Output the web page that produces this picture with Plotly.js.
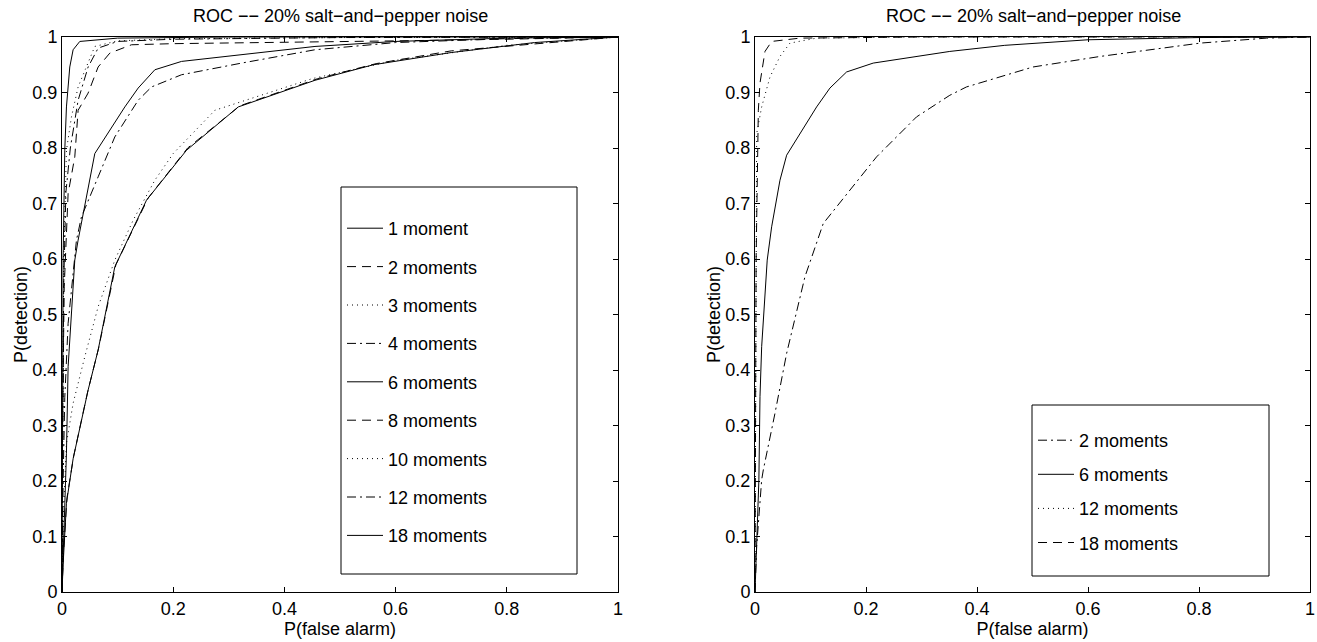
<!DOCTYPE html>
<html>
<head>
<meta charset="utf-8">
<script src="https://cdn.plot.ly/plotly-3.0.1.min.js"></script>
<style>html,body{margin:0;padding:0;background:#fff;}#chart{width:1317px;height:642px;}</style>
</head>
<body>
<div id="chart"></div>
<script>
// ---- Titles / labels ----
const plotTitle = "ROC \u2212\u2212 20% salt\u2212and\u2212pepper noise";
const xLabel = "P(false alarm)";
const yLabel = "P(detection)";

// ---- Left panel series ----
const leftNames = ["1 moment","2 moments","3 moments","4 moments","6 moments","8 moments","10 moments","12 moments","18 moments"];
const L1_fa = [0, 0.002, 0.008, 0.02, 0.047, 0.065, 0.095, 0.152, 0.224, 0.317, 0.455, 0.56, 0.7, 0.85, 1];
const L1_pd = [0, 0.05, 0.16, 0.24, 0.364, 0.436, 0.586, 0.706, 0.796, 0.874, 0.922, 0.95, 0.972, 0.99, 1];
const L2_fa = [0, 0.002, 0.009, 0.021, 0.046, 0.066, 0.097, 0.155, 0.226, 0.32, 0.46, 0.565, 0.7, 0.85, 1];
const L2_pd = [0, 0.06, 0.17, 0.245, 0.36, 0.44, 0.59, 0.71, 0.80, 0.876, 0.925, 0.952, 0.975, 0.988, 1];
const L3_fa = [0, 0.003, 0.008, 0.02, 0.041, 0.065, 0.095, 0.128, 0.167, 0.2, 0.275, 0.45, 0.6, 0.8, 1];
const L3_pd = [0, 0.15, 0.268, 0.34, 0.424, 0.514, 0.598, 0.67, 0.742, 0.79, 0.868, 0.925, 0.958, 0.985, 1];
const L4_fa = [0, 0.002, 0.005, 0.011, 0.026, 0.035, 0.065, 0.095, 0.137, 0.161, 0.215, 0.323, 0.455, 0.6, 0.8, 1];
const L4_pd = [0, 0.2, 0.35, 0.484, 0.634, 0.676, 0.748, 0.82, 0.886, 0.91, 0.932, 0.953, 0.977, 0.99, 0.997, 1];
const L6_fa = [0, 0.003, 0.008, 0.011, 0.017, 0.023, 0.029, 0.059, 0.113, 0.137, 0.167, 0.215, 0.455, 0.6, 0.8, 1];
const L6_pd = [0, 0.1, 0.25, 0.406, 0.496, 0.598, 0.634, 0.79, 0.874, 0.908, 0.941, 0.956, 0.983, 0.992, 0.998, 1];
const L8_fa = [0, 0.001, 0.004, 0.011, 0.023, 0.029, 0.047, 0.065, 0.086, 0.125, 0.2, 0.4, 0.6, 0.8, 1];
const L8_pd = [0, 0.3, 0.55, 0.718, 0.784, 0.868, 0.899, 0.946, 0.971, 0.986, 0.988, 0.99, 0.993, 0.996, 1];
const L10_fa = [0, 0.001, 0.003, 0.008, 0.017, 0.029, 0.044, 0.059, 0.1, 0.2, 0.5, 1];
const L10_pd = [0, 0.3, 0.6, 0.796, 0.856, 0.91, 0.946, 0.983, 0.993, 0.997, 0.999, 1];
const L12_fa = [0, 0.001, 0.003, 0.007, 0.015, 0.029, 0.047, 0.065, 0.1, 0.2, 0.5, 1];
const L12_pd = [0, 0.3, 0.55, 0.72, 0.8, 0.886, 0.946, 0.98, 0.992, 0.996, 0.999, 1];
const L18_fa = [0, 0.0005, 0.002, 0.005, 0.008, 0.014, 0.02, 0.032, 0.06, 0.1, 0.3, 1];
const L18_pd = [0, 0.3, 0.6, 0.796, 0.874, 0.946, 0.977, 0.992, 0.995, 0.998, 1, 1];

// ---- Right panel series ----
const rightNames = ["2 moments","6 moments","12 moments","18 moments"];
const R2_fa = [0, 0.003, 0.012, 0.015, 0.036, 0.057, 0.09, 0.123, 0.147, 0.18, 0.219, 0.291, 0.351, 0.381, 0.501, 0.622, 0.802, 0.922, 1];
const R2_pd = [0, 0.082, 0.202, 0.22, 0.322, 0.43, 0.568, 0.664, 0.694, 0.736, 0.784, 0.856, 0.895, 0.91, 0.946, 0.965, 0.989, 0.998, 1];
const R6_fa = [0, 0.003, 0.007, 0.009, 0.012, 0.022, 0.03, 0.045, 0.057, 0.111, 0.135, 0.165, 0.213, 0.351, 0.45, 0.6, 0.8, 1];
const R6_pd = [0, 0.1, 0.202, 0.352, 0.442, 0.598, 0.658, 0.742, 0.787, 0.874, 0.908, 0.937, 0.953, 0.974, 0.985, 0.995, 0.999, 1];
const R12_fa = [0, 0.001, 0.002, 0.003, 0.012, 0.027, 0.045, 0.063, 0.111, 0.3, 1];
const R12_pd = [0, 0.2, 0.5, 0.826, 0.874, 0.928, 0.965, 0.989, 0.998, 1, 1];
const R18_fa = [0, 0.0005, 0.002, 0.006, 0.009, 0.018, 0.03, 0.081, 0.3, 1];
const R18_pd = [0, 0.2, 0.6, 0.868, 0.917, 0.974, 0.992, 0.998, 1, 1];

const xTicks = [0, 0.2, 0.4, 0.6, 0.8, 1];
const yTicks = [0, 0.1, 0.2, 0.3, 0.4, 0.5, 0.6, 0.7, 0.8, 0.9, 1];

// ---- styles ----
const DASH = "9px,6px";
const DOT = "1px,4px";
const DASHDOT = "9px,4px,2px,4px";
const SOLID = "solid";
const FONT = "Liberation Sans, Arial, Helvetica, sans-serif";

function tr(x, y, name, dash, xa, ya, leg, idx) {
  return {
    type: "scatter", mode: "lines", x: x, y: y, name: name,
    xaxis: xa, yaxis: ya, legend: leg, legendgroup: leg + "_" + idx,
    line: {color: "#000", width: 1, dash: dash},
    hoverinfo: "skip"
  };
}

const leftData = [
  [L1_fa, L1_pd, SOLID], [L2_fa, L2_pd, DASH], [L3_fa, L3_pd, DOT], [L4_fa, L4_pd, DASHDOT],
  [L6_fa, L6_pd, SOLID], [L8_fa, L8_pd, DASH], [L10_fa, L10_pd, DOT], [L12_fa, L12_pd, DASHDOT],
  [L18_fa, L18_pd, SOLID]
];
const rightData = [
  [R2_fa, R2_pd, DASHDOT], [R6_fa, R6_pd, SOLID], [R12_fa, R12_pd, DOT], [R18_fa, R18_pd, DASH]
];

const traces = [];
leftData.forEach((d, i) => traces.push(tr(d[0], d[1], leftNames[i], d[2], "x", "y", "legend", i)));
rightData.forEach((d, i) => traces.push(tr(d[0], d[1], rightNames[i], d[2], "x2", "y2", "legend2", i)));

const W = 1317, H = 642;
const px = v => v / W;
const py = v => 1 - v / H;

function xax(domain, anchor) {
  return {
    domain: domain, anchor: anchor, range: [0, 1], tickvals: xTicks, ticktext: xTicks.map(String),
    ticks: "inside", ticklen: 5, tickcolor: "#000", showline: true, linecolor: "#000", linewidth: 1,
    mirror: "ticks", showgrid: false, zeroline: false,
    tickfont: {family: FONT, size: 18, color: "#000"},
    title: {text: xLabel, font: {family: FONT, size: 18, color: "#000"}, standoff: 0},
    automargin: false, fixedrange: true
  };
}
function yax(domain, anchor) {
  return {
    domain: domain, anchor: anchor, range: [0, 1], tickvals: yTicks, ticktext: yTicks.map(String),
    ticks: "inside", ticklen: 5, tickcolor: "#000", showline: true, linecolor: "#000", linewidth: 1,
    mirror: "ticks", showgrid: false, zeroline: false,
    tickfont: {family: FONT, size: 18, color: "#000"},
    title: {text: yLabel, font: {family: FONT, size: 18, color: "#000"}, standoff: 0},
    automargin: false, fixedrange: true
  };
}

const yDom = [(H - 592) / H, (H - 37) / H];

const layout = {
  width: W, height: H,
  margin: {l: 0, r: 0, t: 0, b: 0},
  paper_bgcolor: "#fff", plot_bgcolor: "#fff",
  font: {family: FONT, size: 18, color: "#000"},
  showlegend: true,
  xaxis: xax([px(62), px(618)], "y"),
  yaxis: yax(yDom, "x"),
  xaxis2: xax([px(755), px(1310)], "y2"),
  yaxis2: yax(yDom, "x2"),
  legend: {
    x: px(342), y: py(210), xanchor: "left", yanchor: "top", itemwidth: 36,
    bgcolor: "rgba(0,0,0,0)", borderwidth: 0, tracegroupgap: 12,
    font: {family: FONT, size: 18, color: "#000"}, itemclick: false, itemdoubleclick: false
  },
  legend2: {
    x: px(1033), y: py(422), xanchor: "left", yanchor: "top", itemwidth: 36,
    bgcolor: "rgba(0,0,0,0)", borderwidth: 0, tracegroupgap: 7.7,
    font: {family: FONT, size: 18, color: "#000"}, itemclick: false, itemdoubleclick: false
  },
  shapes: [
    {type: "rect", xref: "paper", yref: "paper", x0: px(341), x1: px(577), y0: py(574), y1: py(187),
     line: {color: "#000", width: 1}, fillcolor: "#fff", layer: "below"},
    {type: "rect", xref: "paper", yref: "paper", x0: px(1032), x1: px(1269), y0: py(576), y1: py(405),
     line: {color: "#000", width: 1}, fillcolor: "#fff", layer: "below"}
  ],
  annotations: [
    {text: plotTitle, xref: "paper", yref: "paper", x: px(340), y: py(16), xanchor: "center", yanchor: "middle",
     showarrow: false, font: {family: FONT, size: 18, color: "#000"}},
    {text: plotTitle, xref: "paper", yref: "paper", x: px(1033), y: py(16), xanchor: "center", yanchor: "middle",
     showarrow: false, font: {family: FONT, size: 18, color: "#000"}}
  ]
};

Plotly.newPlot("chart", traces, layout, {displayModeBar: false, staticPlot: true});
</script>
</body>
</html>
